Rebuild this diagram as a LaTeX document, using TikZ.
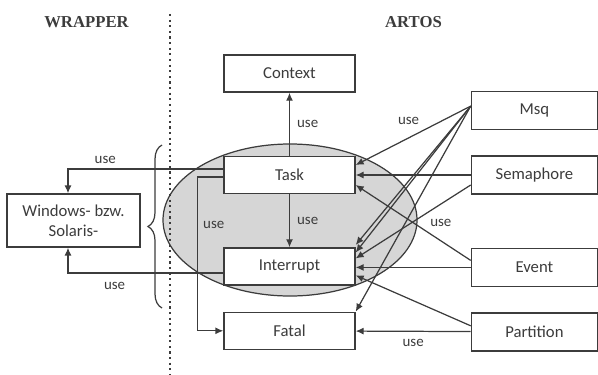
\documentclass[tikz,border=0pt]{standalone}
\usepackage{fontspec}
\setmainfont{Carlito}
\newfontfamily\headfont{Liberation Serif}
\usetikzlibrary{arrows.meta,positioning,decorations.pathreplacing}
\definecolor{ink}{HTML}{3C3C3C}
\definecolor{blob}{HTML}{D6D6D6}
\tikzset{
  box/.style={draw=ink, line width=0.8pt, fill=white, text=ink, align=center, minimum width=2.62cm, minimum height=0.74cm, inner sep=2pt, font=\fontsize{9.5}{11.4}\selectfont},
  sidebox/.style={box, minimum width=2.52cm, minimum height=0.76cm},
  line/.style={-{Latex[length=4.5pt,width=4pt]}, draw=ink, line width=0.7pt},
  uselabel/.style={text=ink, inner sep=1pt, font=\fontsize{8.5}{10}\selectfont},
  heading/.style={text=ink, font=\headfont\bfseries\fontsize{9.5}{11}\selectfont}
}

\begin{document}
\begin{tikzpicture}
  \useasboundingbox (0,0) rectangle (11.96,-7.48);
  % kernel area
  \filldraw[fill=blob, draw=ink, line width=0.7pt] (5.8,-4.4) ellipse [x radius=2.54cm, y radius=1.52cm];
  \draw[ink, dotted, line width=1.2pt] (3.4,-0.28) -- (3.4,-7.48);
  \draw[ink, line width=0.7pt, decorate, decoration={brace, amplitude=0.28cm}] (3.24,-6.16) -- (3.24,-2.9);

  \node[heading] (wrapper) at (1.73,-0.44) {WRAPPER};
  \node[heading] (artos) at (8.27,-0.44) {ARTOS};

  \node[box] (task) at (5.79,-3.5) {Task};
  \node[box, above=1.26cm of task] (context) {Context};
  \node[box, below=1.06cm of task] (interrupt) {Interrupt};
  \node[box, below=0.52cm of interrupt] (fatal) {Fatal};
  \node[sidebox, right=2.3cm of task] (semaphore) {Semaphore};
  \node[sidebox, above=0.5cm of semaphore] (msq) {Msq};
  \node[sidebox, below=1.06cm of semaphore] (event) {Event};
  \node[sidebox, below=0.5cm of event] (partition) {Partition};
  \node[box, minimum width=2.66cm, minimum height=1.06cm] (windows) at (1.47,-4.41) {Windows- bzw.\\Solaris-};

  % kernel
  \draw[line] (task) -- node[uselabel, right=3pt] {use} (context);
  \draw[line] (task) -- node[uselabel, right=3pt] {use} (interrupt);
  \draw[line] ([yshift=-0.04cm]task.west) -- ++(-0.52,0) |- node[uselabel, pos=0.155, right=2pt] {use} (fatal.west);

  % wrapper
  \draw[line] ([yshift=0.12cm]task.west) -| node[uselabel, pos=0.38, above=2pt] {use} ([xshift=-0.11cm]windows.north);
  \draw[line] ([yshift=-0.13cm]interrupt.west) -| node[uselabel, pos=0.35, below=4pt] {use} ([xshift=-0.11cm]windows.south);

  % services
  \draw[line] ([yshift=0.09cm]msq.west) -- node[uselabel, pos=0.54, above=6pt] {use} ([yshift=0.2cm]task.east);
  \draw[line] ([yshift=0.09cm]msq.west) -- ([yshift=0.43cm]interrupt.east);
  \draw[line] ([yshift=0.09cm]msq.west) -- ([yshift=0.28cm]interrupt.east);
  \draw[line] ([yshift=0.09cm]msq.west) -- (fatal.north east);
  \draw[line] (semaphore) -- (task);
  \draw[line] ([yshift=-0.2cm]semaphore.west) -- ([yshift=0.16cm]interrupt.east);
  \draw[line] ([yshift=0.14cm]event.west) -- node[uselabel, pos=0.26, above=7pt] {use} ([yshift=-0.2cm]task.east);
  \draw[line] (event.west) -- (event.west -| interrupt.east);
  \draw[line] ([yshift=0.12cm]partition.west) -- ([yshift=-0.18cm]interrupt.east);
  \draw[line] (partition) -- node[uselabel, below=3pt] {use} (fatal);
\end{tikzpicture}
\end{document}
